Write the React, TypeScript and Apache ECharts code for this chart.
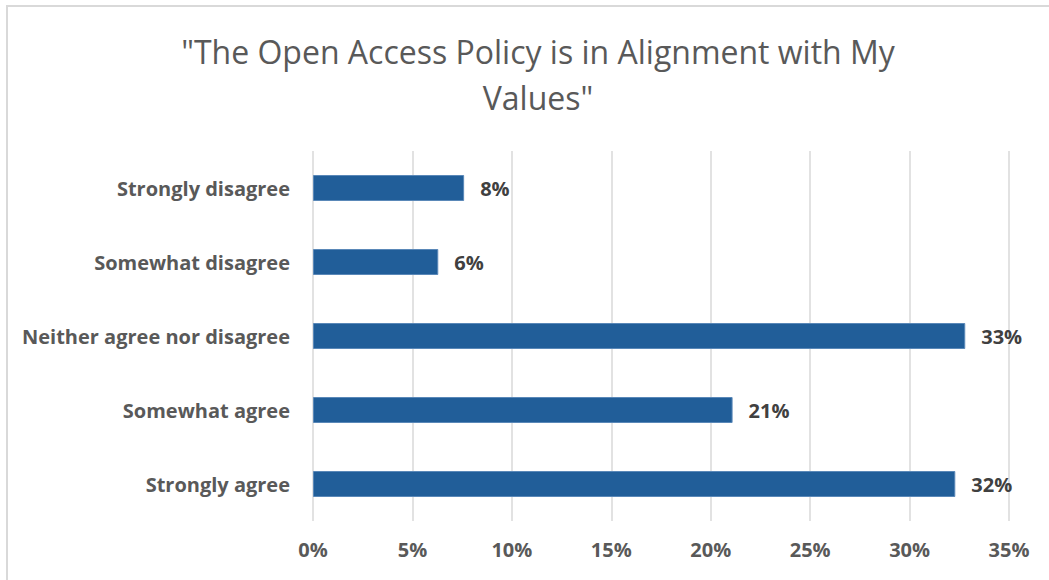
import React, { useEffect, useRef } from "react";
import * as echarts from "echarts";

const categories = [
  "Strongly agree",
  "Somewhat agree",
  "Neither agree nor disagree",
  "Somewhat disagree",
  "Strongly disagree",
];
const values = [32.3, 21.1, 32.8, 6.3, 7.6];
const valueLabels = ["32%", "21%", "33%", "6%", "8%"];
const titleText = '"The Open Access Policy is in Alignment with My\nValues"';

export default function App() {
  const ref = useRef<HTMLDivElement>(null);
  useEffect(() => {
    if (!ref.current) return;
    const chart = echarts.init(ref.current, null, { renderer: "svg" });
    chart.setOption({
      animation: false,
      backgroundColor: "#ffffff",
      title: {
        text: titleText,
        left: 533,
        textAlign: "center",
        top: 23,
        textStyle: {
          fontFamily: "Open Sans",
          fontSize: 32,
          fontWeight: "normal",
          color: "#595959",
          lineHeight: 46,
        },
      },
      graphic: [
        {
          type: "rect",
          shape: { x: 7, y: 6, width: 1100, height: 640 },
          style: { fill: "none", stroke: "#d9d9d9", lineWidth: 2 },
          silent: true,
        },
      ],
      grid: { left: 313, right: 40, top: 151, bottom: 59, containLabel: false },
      xAxis: {
        type: "value",
        min: 0,
        max: 35,
        interval: 5,
        axisLine: { show: false },
        axisTick: { show: false },
        splitLine: { show: true, lineStyle: { color: "#d9d9d9", width: 1.5 } },
        axisLabel: {
          formatter: (v: number) => v + "%",
          fontFamily: "Open Sans",
          fontWeight: "bold",
          fontSize: 20,
          color: "#595959",
          margin: 18,
        },
      },
      yAxis: {
        type: "category",
        data: categories,
        axisLine: { show: false },
        axisTick: { show: false },
        splitLine: { show: false },
        axisLabel: {
          fontFamily: "Open Sans",
          fontWeight: "bold",
          fontSize: 20,
          color: "#595959",
          margin: 23,
        },
      },
      series: [
        {
          type: "bar",
          data: values,
          barWidth: 26,
          itemStyle: { color: "#215e99", borderColor: "#5a88b8", borderWidth: 1 },
          label: {
            show: true,
            position: "right",
            distance: 16,
            formatter: (p: any) => valueLabels[p.dataIndex],
            fontFamily: "Open Sans",
            fontWeight: "bold",
            fontSize: 20,
            color: "#404040",
          },
        },
      ],
    });
    return () => chart.dispose();
  }, []);
  return (
    <div
      ref={ref}
      style={{ position: "fixed", left: 0, top: 0, width: 1049, height: 580 }}
    />
  );
}
